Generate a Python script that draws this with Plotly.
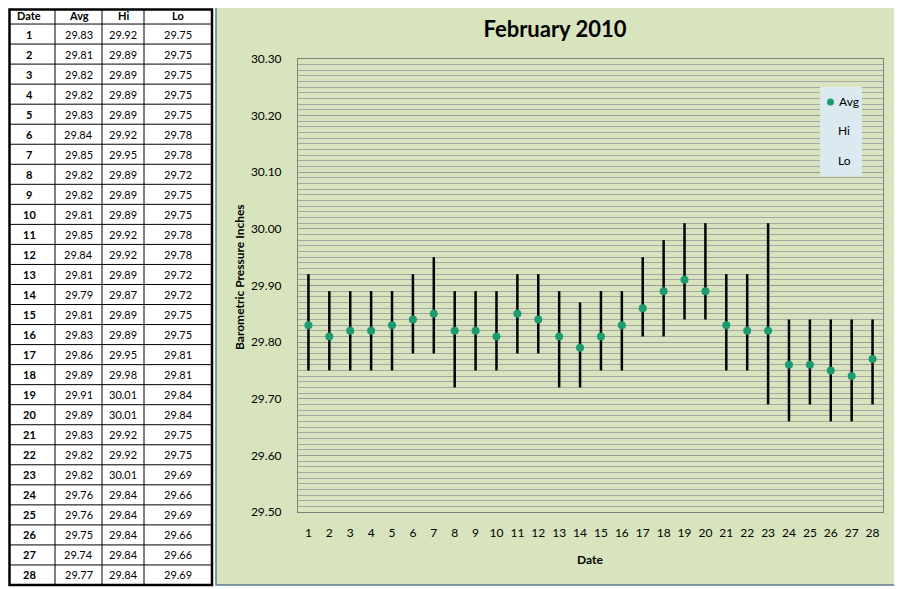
import plotly.graph_objects as go

dates = list(range(1, 29))
avg = [29.83, 29.81, 29.82, 29.82, 29.83, 29.84, 29.85, 29.82, 29.82, 29.81,
       29.85, 29.84, 29.81, 29.79, 29.81, 29.83, 29.86, 29.89, 29.91, 29.89,
       29.83, 29.82, 29.82, 29.76, 29.76, 29.75, 29.74, 29.77]
hi = [29.92, 29.89, 29.89, 29.89, 29.89, 29.92, 29.95, 29.89, 29.89, 29.89,
      29.92, 29.92, 29.89, 29.87, 29.89, 29.89, 29.95, 29.98, 30.01, 30.01,
      29.92, 29.92, 30.01, 29.84, 29.84, 29.84, 29.84, 29.84]
lo = [29.75, 29.75, 29.75, 29.75, 29.75, 29.78, 29.78, 29.72, 29.75, 29.75,
      29.78, 29.78, 29.72, 29.72, 29.75, 29.75, 29.81, 29.81, 29.84, 29.84,
      29.75, 29.75, 29.69, 29.66, 29.69, 29.66, 29.66, 29.69]
col_headers = ["Date", "Avg", "Hi", "Lo"]
title_text = "February 2010"
y_title = "Barometric Pressure Inches"
x_title = "Date"
legend_labels = ["Avg", "Hi", "Lo"]

W, H = 902, 589
OX, OY = 8, 8          # page offset of the figure inside the browser window
FONT = "Lato"
GREEN = "#1b9b6f"


def px(x):
    return (x - OX) / W


def py(y):
    return 1 - (y - OY) / H


err_plus = [round(h - a, 4) for h, a in zip(hi, avg)]
err_minus = [round(a - l, 4) for a, l in zip(avg, lo)]

fig = go.Figure()

fig.add_trace(go.Scatter(
    x=dates, y=avg, mode="markers", name="Avg",
    marker=dict(color=GREEN, size=8),
    error_y=dict(type="data", symmetric=False, array=err_plus,
                 arrayminus=err_minus, color="black", thickness=2.5, width=0),
    showlegend=False,
))

shapes = []
annotations = []

# chart area background
shapes.append(dict(type="rect", xref="paper", yref="paper", x0=px(216), x1=px(900),
                   y0=py(585), y1=py(3), fillcolor="#d7e4bd",
                   line=dict(color="#5d7a94", width=1.5), layer="below"))

# ---- data table (built from the arrays) ----
col_edges = [3, 55, 102, 144, 212]
t_top, t_bot = 4, 585
vis_left, vis_top = OX + 1.5, OY + 1.5
n_rows = len(dates) + 1
row_h = (t_bot - t_top) / n_rows
columns = [["<b>%d</b>" % d for d in dates],
           ["%.2f" % v for v in avg],
           ["%.2f" % v for v in hi],
           ["%.2f" % v for v in lo]]
shapes.append(dict(type="rect", xref="paper", yref="paper", x0=px(vis_left),
                   x1=px(col_edges[-1]), y0=py(t_bot), y1=py(vis_top),
                   fillcolor="white", line=dict(width=0), layer="below"))
for r in range(1, n_rows):
    yy = t_top + r * row_h
    shapes.append(dict(type="line", xref="paper", yref="paper",
                       x0=px(vis_left), x1=px(col_edges[-1]),
                       y0=py(yy), y1=py(yy), line=dict(color="black", width=1)))
for c in range(1, len(col_edges) - 1):
    shapes.append(dict(type="line", xref="paper", yref="paper",
                       x0=px(col_edges[c]), x1=px(col_edges[c]),
                       y0=py(t_bot), y1=py(vis_top), line=dict(color="black", width=1)))
shapes.append(dict(type="rect", xref="paper", yref="paper", x0=px(vis_left),
                   x1=px(col_edges[-1]), y0=py(t_bot), y1=py(vis_top),
                   line=dict(color="black", width=2.5)))
for c, head in enumerate(col_headers):
    xc = (col_edges[c] + col_edges[c + 1]) / 2
    annotations.append(dict(text="<b>%s</b>" % head, xref="paper", yref="paper",
                            x=px(xc), y=py(t_top + row_h / 2 + 1), xanchor="center",
                            yanchor="middle", showarrow=False,
                            font=dict(family=FONT, size=11, color="black")))
    for r, val in enumerate(columns[c]):
        annotations.append(dict(text=val, xref="paper", yref="paper",
                                x=px(xc), y=py(t_top + (r + 1.5) * row_h),
                                xanchor="center", yanchor="middle", showarrow=False,
                                font=dict(family=FONT, size=11, color="black")))

# ---- legend box ----
shapes.append(dict(type="rect", xref="paper", yref="paper", x0=px(820), x1=px(862),
                   y0=py(176), y1=py(87), fillcolor="#dbe9f1",
                   line=dict(width=0), layer="above"))
shapes.append(dict(type="circle", xref="paper", yref="paper", x0=px(827), x1=px(834),
                   y0=py(105.5), y1=py(98.5), fillcolor=GREEN,
                   line=dict(width=0), layer="above"))
annotations.append(dict(text=legend_labels[0], xref="paper", yref="paper", x=px(837),
                        y=py(102), xanchor="left", yanchor="middle", showarrow=False,
                        font=dict(family=FONT, size=12, color="black")))
for i, lab in enumerate(legend_labels[1:]):
    annotations.append(dict(text=lab, xref="paper", yref="paper", x=px(844),
                            y=py(131 + 29 * i), xanchor="center", yanchor="middle",
                            showarrow=False,
                            font=dict(family=FONT, size=12, color="black")))

# ---- axis titles ----
annotations.append(dict(text="<b>%s</b>" % y_title, xref="paper", yref="paper",
                        x=px(239), y=py(277), xanchor="center", yanchor="middle",
                        textangle=-90, showarrow=False,
                        font=dict(family=FONT, size=12, color="black")))
annotations.append(dict(text="<b>%s</b>" % x_title, xref="paper", yref="paper",
                        x=px(590), y=py(559), xanchor="center", yanchor="middle",
                        showarrow=False,
                        font=dict(family=FONT, size=12, color="black")))

fig.update_layout(
    width=W, height=H,
    margin=dict(l=0, r=0, t=0, b=0, autoexpand=False),
    paper_bgcolor="white",
    plot_bgcolor="white",
    showlegend=False,
    title=dict(text="<b>%s</b>" % title_text, x=px(555), y=py(29),
               xref="paper", yref="paper", xanchor="center", yanchor="middle",
               font=dict(family=FONT, size=22, color="black")),
    shapes=shapes,
    annotations=annotations,
    xaxis=dict(
        domain=[px(298), px(883)],
        range=[0.5, 28.5], tickmode="array", tickvals=dates,
        ticktext=[str(d) for d in dates],
        showgrid=False, zeroline=False,
        showline=True, linecolor="#808080", linewidth=1, mirror=True,
        ticks="outside", ticklen=10, tickcolor="rgba(0,0,0,0)",
        tickfont=dict(family=FONT, size=12, color="black"),
    ),
    yaxis=dict(
        domain=[py(512), py(59)],
        range=[29.50, 30.30], dtick=0.1, tickformat=".2f",
        showgrid=True, gridcolor="#9a9a9a", gridwidth=1,
        minor=dict(dtick=0.01, showgrid=True, gridcolor="#a6a6a6",
                   gridwidth=1),
        zeroline=False,
        showline=True, linecolor="#808080", linewidth=1, mirror=True,
        ticks="outside", ticklen=13, tickcolor="rgba(0,0,0,0)",
        tickfont=dict(family=FONT, size=12, color="black"),
    ),
)

fig.write_html("out.html")
